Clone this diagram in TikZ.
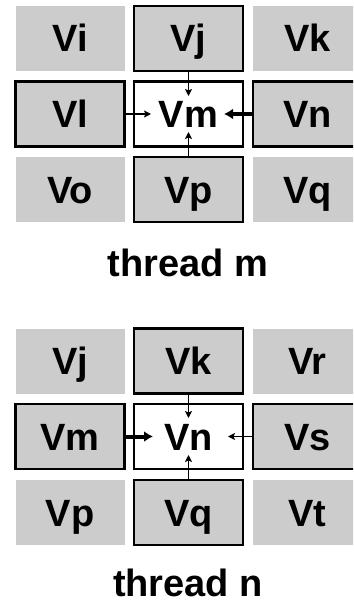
\documentclass[tikz,border=0pt]{standalone}
\usepackage{fontspec}
\setmainfont{Liberation Sans}
\usetikzlibrary{arrows.meta}
\definecolor{cellgray}{HTML}{CCCCCC}
\tikzset{
  cell/.style={rectangle, fill=cellgray, minimum width=109pt, minimum height=65pt, inner sep=0pt, text height=27pt, text depth=0pt, font=\fontsize{38}{42}\selectfont\bfseries},
  bcell/.style={cell, draw=black, line width=2.6pt},
  wcell/.style={bcell, fill=white},
  thinarrow/.style={line width=1.3pt, -{Stealth[length=7pt,width=7pt,inset=1.5pt]}},
  thickarrow/.style={line width=4pt, -{Latex[length=9pt,width=11pt]}},
  caption/.style={font=\fontsize{38}{42}\selectfont\bfseries, inner sep=0pt, anchor=base}
}
\begin{document}
\begin{tikzpicture}[x=1pt,y=-1pt]
\path[use as bounding box] (0,0) rectangle (353,604);
\clip (0,0) rectangle (353,604);
% ---------- thread m ----------
\node[cell]  (Vi) at (70,38.5) {Vi};
\node[bcell] (Vj) at (188.5,38.5) {Vj};
\node[cell]  (Vk) at (307.5,38.5) {Vk};
\node[bcell] (Vl) at (70,114) {Vl};
\node[wcell] (Vm) at (188.5,114) {Vm};
\node[bcell] (Vn) at (307.5,114) {Vn};
\node[cell]  (Vo) at (70,189.5) {Vo};
\node[bcell] (Vp) at (188.5,189.5) {Vp};
\node[cell]  (Vq) at (307.5,189.5) {Vq};
\coordinate (mT) at (188.5,96);
\coordinate (mL) at (151,114);
\coordinate (mB) at (188.5,132);
\coordinate (mR) at (224,114);
\draw[thinarrow] (Vj.south) -- (mT);
\draw[thinarrow] (Vl.east) -- (mL);
\draw[thinarrow] (Vp.north) -- (mB);
\draw[thickarrow] (Vn.west) -- (mR);
\node[caption] (tm) at (188,276) {thread m};
% ---------- thread n ----------
\node[cell]  (Vj2) at (70,361) {Vj};
\node[bcell] (Vk2) at (188.5,361) {Vk};
\node[cell]  (Vr2) at (307.5,361) {Vr};
\node[bcell] (Vm2) at (70,436.5) {Vm};
\node[wcell] (Vn2) at (188.5,436.5) {Vn};
\node[bcell] (Vs2) at (307.5,436.5) {Vs};
\node[cell]  (Vp2) at (70,512.5) {Vp};
\node[bcell] (Vq2) at (188.5,512.5) {Vq};
\node[cell]  (Vt2) at (307.5,512.5) {Vt};
\coordinate (nT) at (188.5,418);
\coordinate (nL) at (153,436.5);
\coordinate (nB) at (188.5,455);
\coordinate (nR) at (228,436.5);
\draw[thinarrow] (Vk2.south) -- (nT);
\draw[thickarrow] (Vm2.east) -- (nL);
\draw[thinarrow] (Vq2.north) -- (nB);
\draw[thinarrow] (Vs2.west) -- (nR);
\node[caption] (tn) at (188,596) {thread n};
\end{tikzpicture}
\end{document}
